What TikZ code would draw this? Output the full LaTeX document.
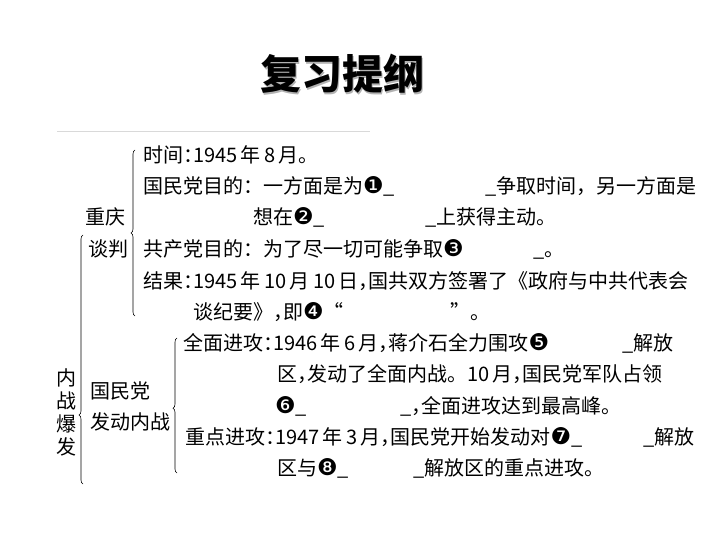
\documentclass[tikz,border=0pt]{standalone}
\usepackage{fontspec}
\usetikzlibrary{decorations.pathreplacing}
\setmainfont{Noto Sans CJK SC}
\newfontfamily\dingfont{DejaVu Sans}
\newcommand{\dn}[1]{{\dingfont\fontsize{23}{24}\selectfont #1}}
\newcommand{\hp}[1]{\makebox[0.5em][l]{#1}}
\tikzset{txt/.style={anchor=base west, inner sep=0mm, font=\fontsize{20}{24}\selectfont},
         brc/.style={decorate, decoration={brace, amplitude=4pt, aspect=#1}, line width=0.6pt},
         brc/.default=0.5}

\begin{document}
\begin{tikzpicture}[x=1pt, y=-1pt]
    \useasboundingbox (0,0) rectangle (720,540);

    % title with shadow
    \node (titleshadow) at (343.5,75.5) [inner sep=0mm, text=black!30, font=\fontsize{41}{45}\selectfont\bfseries] {复习提纲};
    \node (title) at (342,74) [inner sep=0mm, font=\fontsize{41}{45}\selectfont\bfseries] {复习提纲};
    \draw [black!15] (57,131) -- (370,131);

    \node (time) at (143,162.5) [txt] {时间\hp{：}1945\,年\,8\,月。};
    \node (kmtaim1) at (143,194) [txt] {国民党目的：一方面是为\dn{❶}\_};
    \node (kmtaim1r) at (485,194) [txt] {\_争取时间，另一方面是};
    \node (kmtaim2) at (253,225) [txt] {想在\dn{❷}\_};
    \node (kmtaim2r) at (425,225) [txt] {\_上获得主动。};
    \node (cpcaim) at (143,256.5) [txt] {共产党目的：为了尽一切可能争取\dn{❸}};
    \node (cpcaimr) at (533,256.5) [txt] {\_。};
    \node (result1) at (143,288) [txt] {结果\hp{：}1945\,年\,10\,月\,10\,日\hp{，}国共双方签署了《政府与中共代表会};
    \node (result2) at (193,319) [txt] {谈纪要》\hp{，}即\dn{❹}“};
    \node (result2r) at (450,319) [txt] {”。};

    \node (fullatk1) at (183,350.5) [txt] {全面进攻\hp{：}1946\,年\,6\,月\hp{，}蒋介石全力围攻\dn{❺}};
    \node (fullatk1r) at (622,350.5) [txt] {\_解放};
    \node (fullatk2) at (277,381.5) [txt] {区\hp{，}发动了全面内战。10\,月\hp{，}国民党军队占领};
    \node (fullatk3) at (275,413) [txt] {\dn{❻}\_};
    \node (fullatk3r) at (400,413) [txt] {\_\hp{，}全面进攻达到最高峰。};
    \node (keyatk1) at (185,444) [txt] {重点进攻\hp{：}1947\,年\,3\,月\hp{，}国民党开始发动对\dn{❼}\_};
    \node (keyatk1r) at (643,444) [txt] {\_解放};
    \node (keyatk2) at (277,475.5) [txt] {区与\dn{❽}\_};
    \node (keyatk2r) at (413,475.5) [txt] {\_解放区的重点进攻。};

    \node (cq) at (85,225) [txt] {重庆};
    \node (tp) at (88,256.5) [txt] {谈判};
    \node (gmd) at (90,398.5) [txt] {国民党};
    \node (fd) at (90,429.5) [txt] {发动内战};
    \node (nzbf) at (66,412) [inner sep=0mm, align=center, font=\fontsize{20}{23}\selectfont] {内\\战\\爆\\发};

    \coordinate (b1s) at (135,316);
    \coordinate (b1e) at (135,150);
    \coordinate (b2s) at (83,484);
    \coordinate (b2e) at (83,235);
    \coordinate (b3s) at (177,473);
    \coordinate (b3e) at (177,338);

    \draw [brc] (b1s) -- (b1e);
    \draw [brc=0.277] (b2s) -- (b2e);
    \draw [brc=0.48] (b3s) -- (b3e);
\end{tikzpicture}
\end{document}
